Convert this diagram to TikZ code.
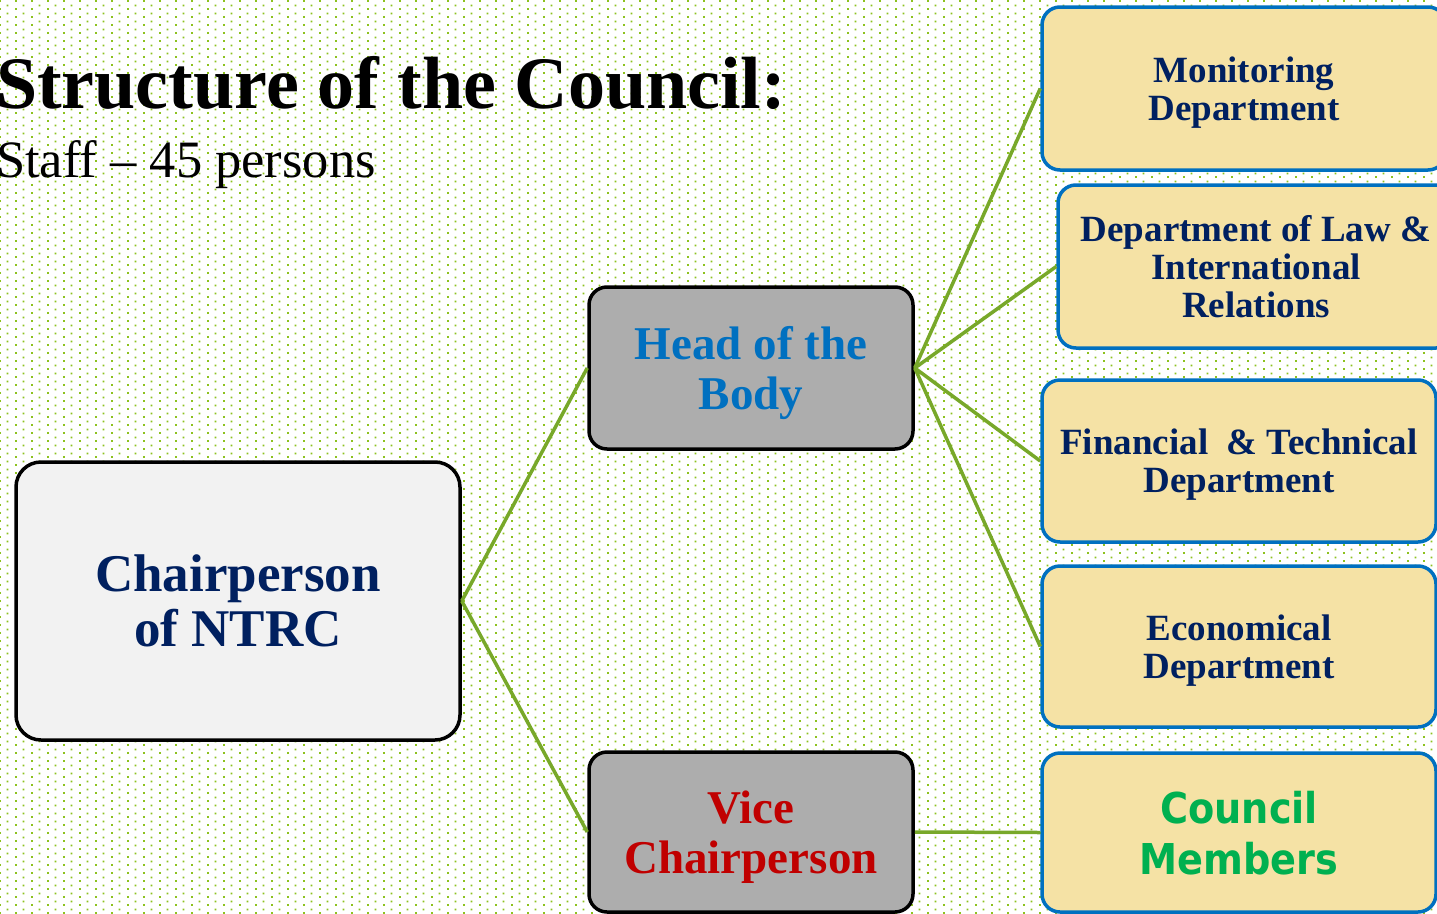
\documentclass[tikz,border=0pt]{standalone}
\usepackage{fontspec}
\setmainfont{Liberation Serif}
\newfontfamily\councilfont{DejaVu Sans Condensed}
\usetikzlibrary{patterns}
\pgfdeclarepatternformonly{greendots}{\pgfqpoint{0pt}{0pt}}{\pgfqpoint{16pt}{8pt}}{\pgfqpoint{16pt}{8pt}}{%
  \pgfpathrectangle{\pgfqpoint{0pt}{0pt}}{\pgfqpoint{2pt}{2pt}}%
  \pgfpathrectangle{\pgfqpoint{8pt}{4pt}}{\pgfqpoint{2pt}{2pt}}%
  \pgfusepath{fill}}
\definecolor{navy}{HTML}{002060}
\definecolor{headblue}{HTML}{0070C0}
\definecolor{vicered}{HTML}{C00000}
\definecolor{cgreen}{HTML}{00B050}
\definecolor{wheat}{HTML}{F5E2A5}
\definecolor{boxgray}{HTML}{ADADAD}
\definecolor{chairfill}{HTML}{F2F2F2}
\definecolor{connol}{HTML}{78A82A}
\definecolor{dotgreen}{HTML}{8DC21F}
\tikzset{
  dept/.style={draw=headblue, line width=3.5pt, fill=wheat, rounded corners=18pt,
    minimum width=394pt, minimum height=162pt, inner sep=0pt, align=center,
    text depth=0pt, text=navy, font=\fontsize{37}{38}\selectfont\bfseries},
  graybox/.style={draw=black, line width=3.5pt, fill=boxgray, rounded corners=18pt,
    minimum width=324pt, minimum height=162pt, inner sep=0pt, align=center,
    text depth=0pt, font=\fontsize{47}{50}\selectfont\bfseries},
  chairbox/.style={draw=black, line width=3.5pt, fill=chairfill, rounded corners=25pt,
    minimum width=444pt, minimum height=278pt, inner sep=0pt, align=center,
    text=navy, font=\fontsize{53}{55}\selectfont\bfseries},
  conn/.style={draw=connol, line width=3.5pt}
}
\begin{document}
\begin{tikzpicture}[x=1pt,y=-1pt]
\useasboundingbox (0,0) rectangle (1437,913);
\clip (0,0) rectangle (1437,913);
\fill[white] (0,0) rectangle (1437,913);
\fill[pattern=greendots, pattern color=dotgreen] (0,0) rectangle (1437,913);

\node[anchor=base west, inner sep=0pt, font=\fontsize{74}{80}\selectfont\bfseries] (title) at (-4,108) {Structure of the Council:};
\node[anchor=base west, inner sep=0pt, font=\fontsize{52.5}{58}\selectfont] (staff) at (-4,177) {Staff – 45 persons};

\node[chairbox] (chair) at (238,601) {Chairperson\\of NTRC};
\node[graybox, text=headblue] (head) at (751,368) {Head of the\\Body};
\node[graybox, text=vicered, minimum height=160pt] (vice) at (751,832) {Vice\\Chairperson};

\node[dept, minimum width=404pt, minimum height=163pt] (mon) at (1244,88.5) {Monitoring\\Department};
\node[dept, minimum width=396pt, minimum height=163pt] (law) at (1256,266.5) {Department of Law \&\\International\\Relations};
\node[dept] (fin) at (1239,461) {Financial\ \ \& Technical\\Department};
\node[dept, minimum height=161pt] (eco) at (1239,646.5) {Economical\\Department};
\node[dept, minimum height=159pt, text=cgreen, font=\councilfont\fontsize{42.5}{51}\selectfont\bfseries] (council) at (1239,832.5) {Council\\Members};

\draw[conn] (chair.east) -- (head.west);
\draw[conn] (chair.east) -- (vice.west);
\draw[conn] (head.east) -- (mon.west);
\draw[conn] (head.east) -- (law.west);
\draw[conn] (head.east) -- (fin.west);
\draw[conn] (head.east) -- (eco.west);
\draw[conn] (vice.east) -- (council.west);
\end{tikzpicture}
\end{document}
